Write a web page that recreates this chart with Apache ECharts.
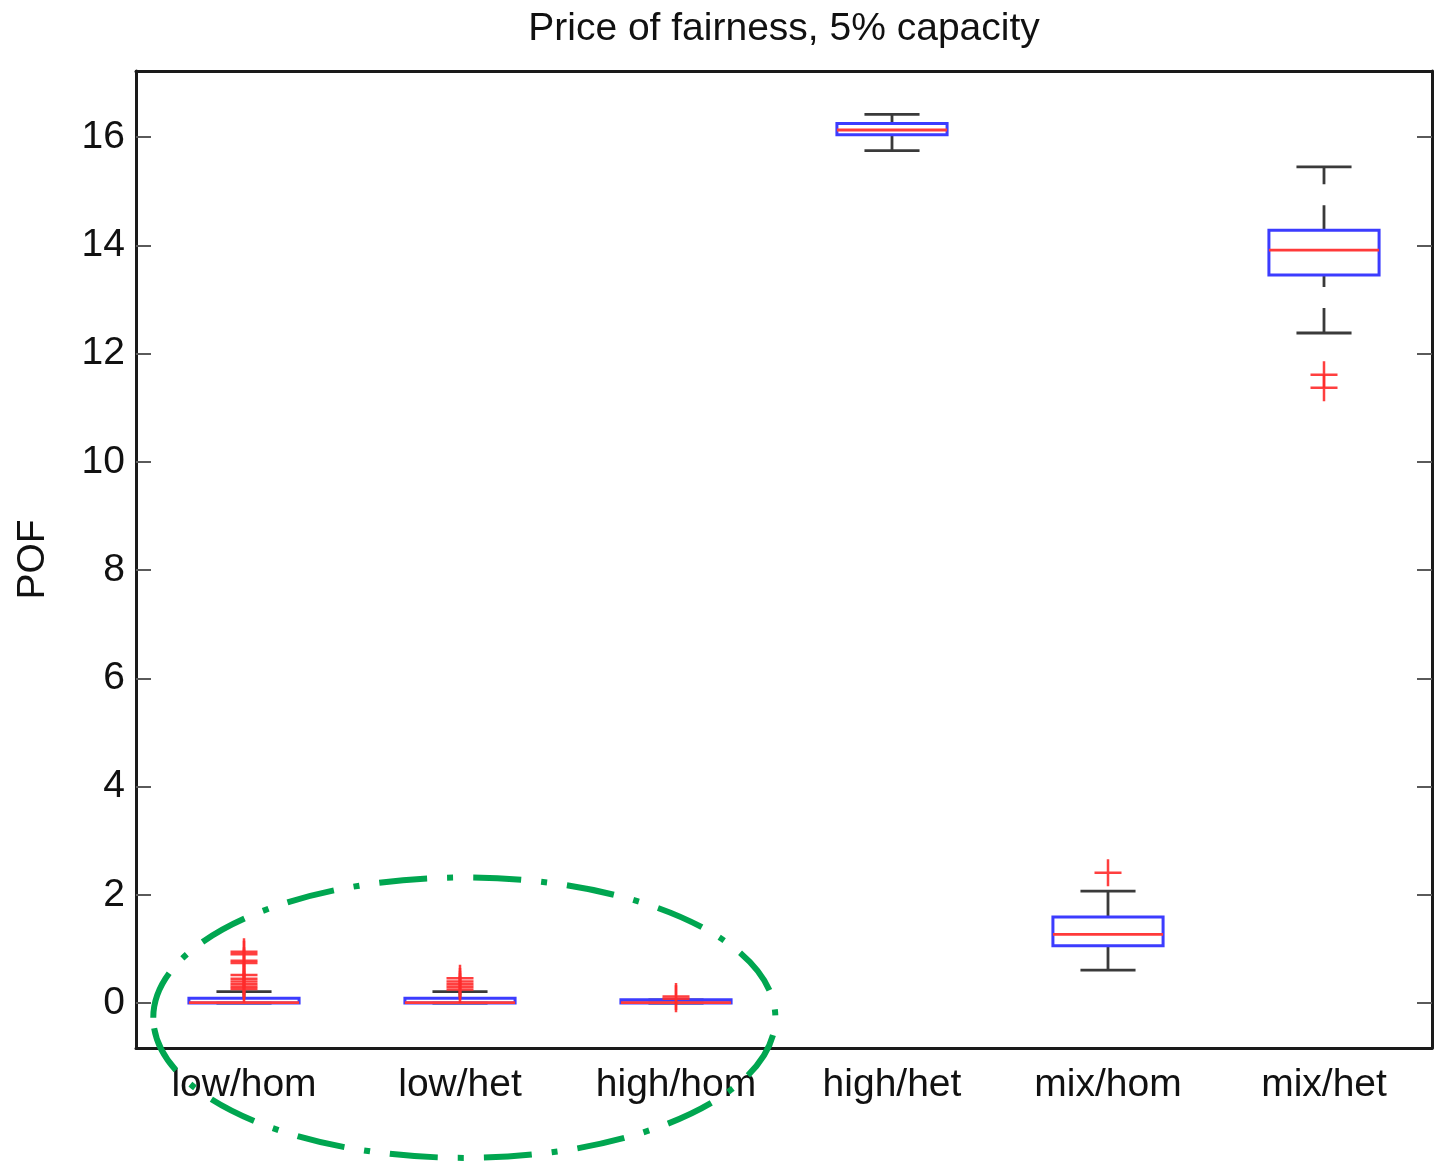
<!DOCTYPE html>
<html><head><meta charset="utf-8">
<script src="https://cdn.jsdelivr.net/npm/echarts@6/dist/echarts.min.js"></script>
<style>html,body{margin:0;padding:0;background:#fff}#c{width:1445px;height:1161px}</style>
</head><body><div id="c"></div>
<script>
const titleText = 'Price of fairness, 5% capacity';
const yName = 'POF';
const categories = ['low/hom', 'low/het', 'high/hom', 'high/het', 'mix/hom', 'mix/het'];
const lowerWhisker = [0, 0, 0, 15.75, 0.61, 12.38];
const q1 = [0, 0, 0, 16.04, 1.06, 13.45];
const median = [0.01, 0.01, 0.01, 16.13, 1.27, 13.91];
const q3 = [0.09, 0.09, 0.06, 16.25, 1.59, 14.28];
const upperWhisker = [0.21, 0.21, 0.06, 16.42, 2.07, 15.45];
const outliers = [
  [0.95, 0.90, 0.78, 0.74, 0.52, 0.45, 0.40, 0.35, 0.30, 0.26],
  [0.46, 0.40, 0.35, 0.30, 0.25],
  [0.12, 0.08],
  [],
  [2.41],
  [11.61, 11.37]
];
const yTicks = [0, 2, 4, 6, 8, 10, 12, 14, 16];
const yMin = -0.83, yMax = 17.22;
// highlight ellipse in data units (category index / value)
const ellipseCenter = [1.02, -0.27];
const ellipseRadius = [1.44, 2.59];

const FONT = '"Liberation Sans", Arial, sans-serif';
const chart = echarts.init(document.getElementById('c'), null, {renderer: 'canvas'});

const boxData = categories.map((c, i) => [i, lowerWhisker[i], q1[i], median[i], q3[i], upperWhisker[i]]);
const outlierData = [];
outliers.forEach((arr, i) => arr.forEach(v => outlierData.push([i, v])));

function renderBox(params, api) {
  const x = api.value(0);
  const lo = api.coord([x, api.value(1)]);
  const b1 = api.coord([x, api.value(2)]);
  const md = api.coord([x, api.value(3)]);
  const b3 = api.coord([x, api.value(4)]);
  const hi = api.coord([x, api.value(5)]);
  const band = api.size([1, 0])[0];
  const bw = band * 0.51, cw = band * 0.255;
  const cx = md[0];
  const wStyle = {stroke: '#3a3a3a', lineWidth: 2.8, lineDash: [25, 21]};
  const cStyle = {stroke: '#3a3a3a', lineWidth: 2.8};
  return {
    type: 'group',
    children: [
      {type: 'line', shape: {x1: cx, y1: lo[1], x2: cx, y2: b1[1]}, style: wStyle},
      {type: 'line', shape: {x1: cx, y1: b3[1], x2: cx, y2: hi[1]}, style: wStyle},
      {type: 'line', shape: {x1: cx - cw / 2, y1: lo[1], x2: cx + cw / 2, y2: lo[1]}, style: cStyle},
      {type: 'line', shape: {x1: cx - cw / 2, y1: hi[1], x2: cx + cw / 2, y2: hi[1]}, style: cStyle},
      {type: 'rect', shape: {x: cx - bw / 2, y: b3[1], width: bw, height: b1[1] - b3[1]},
        style: {fill: 'none', stroke: '#3c3cff', lineWidth: 3}},
      {type: 'line', shape: {x1: cx - bw / 2, y1: md[1], x2: cx + bw / 2, y2: md[1]},
        style: {stroke: '#ff3a3a', lineWidth: 2.8}}
    ]
  };
}

const axisLineStyle = {color: '#1a1a1a', width: 3};
const tickStyle = {color: '#5a5a5a', width: 2};

const option = {
  animation: false,
  backgroundColor: '#fff',
  grid: {left: 136, right: 13, top: 71, bottom: 113},
  xAxis: [
    {
      type: 'category', data: categories, position: 'bottom', boundaryGap: true,
      axisLine: {onZero: false, lineStyle: axisLineStyle},
      axisTick: {alignWithLabel: true, inside: true, length: 14, lineStyle: tickStyle},
      axisLabel: {fontSize: 39, color: '#111', margin: 18, fontFamily: FONT},
      splitLine: {show: false}
    },
    {
      type: 'category', data: categories, position: 'top', boundaryGap: true,
      axisLine: {onZero: false, lineStyle: axisLineStyle},
      axisTick: {alignWithLabel: true, inside: true, length: 14, lineStyle: tickStyle},
      axisLabel: {show: false},
      splitLine: {show: false}
    }
  ],
  yAxis: [
    {
      type: 'value', min: yMin, max: yMax, position: 'left',
      name: yName, nameLocation: 'middle', nameGap: 83,
      nameTextStyle: {fontSize: 39, color: '#111', fontFamily: FONT},
      axisLine: {show: true, onZero: false, lineStyle: axisLineStyle},
      axisTick: {show: true, inside: true, length: 15, lineStyle: tickStyle, customValues: yTicks},
      axisLabel: {fontSize: 39, color: '#111', margin: 11, fontFamily: FONT, customValues: yTicks},
      splitLine: {show: false}
    },
    {
      type: 'value', min: yMin, max: yMax, position: 'right',
      axisLine: {show: true, onZero: false, lineStyle: axisLineStyle},
      axisTick: {show: true, inside: true, length: 15, lineStyle: tickStyle, customValues: yTicks},
      axisLabel: {show: false},
      splitLine: {show: false}
    }
  ],
  series: [
    {
      type: 'custom', xAxisIndex: 0, yAxisIndex: 0, data: boxData,
      encode: {x: 0, y: [1, 2, 3, 4, 5]}, renderItem: renderBox, z: 2
    },
    {
      type: 'scatter', xAxisIndex: 0, yAxisIndex: 0, data: outlierData,
      symbol: 'path://M0,12.25H27V14.75H0Z M12.25,0H14.75V27H12.25Z', symbolSize: 27,
      itemStyle: {color: '#ff2a2a', opacity: 0.9}, z: 3
    }
  ]
};
chart.setOption(option);

const p0 = chart.convertToPixel({xAxisIndex: 0, yAxisIndex: 0}, [0, 0]);
const p1 = chart.convertToPixel({xAxisIndex: 0, yAxisIndex: 0}, [1, 1]);
const bandPx = p1[0] - p0[0];
const unitPx = p0[1] - p1[1];
const ecx = p0[0] + bandPx * ellipseCenter[0];
const ecy = p0[1] - unitPx * ellipseCenter[1];
const plotCenterX = (chart.convertToPixel({xAxisIndex: 0}, 0) + chart.convertToPixel({xAxisIndex: 0}, categories.length - 1)) / 2;

chart.setOption({
  graphic: [
    {
      type: 'text', x: plotCenterX, y: 29, z: 10,
      style: {text: titleText, textAlign: 'center', textVerticalAlign: 'middle',
        font: '39px ' + FONT, fill: '#111'}
    },
    {
      type: 'ellipse', z: 20,
      shape: {cx: ecx, cy: ecy, rx: bandPx * ellipseRadius[0], ry: unitPx * ellipseRadius[1]},
      style: {fill: 'none', stroke: '#00a650', lineWidth: 6, lineDash: [48, 20, 6, 20]}
    }
  ]
});
</script>
</body></html>
